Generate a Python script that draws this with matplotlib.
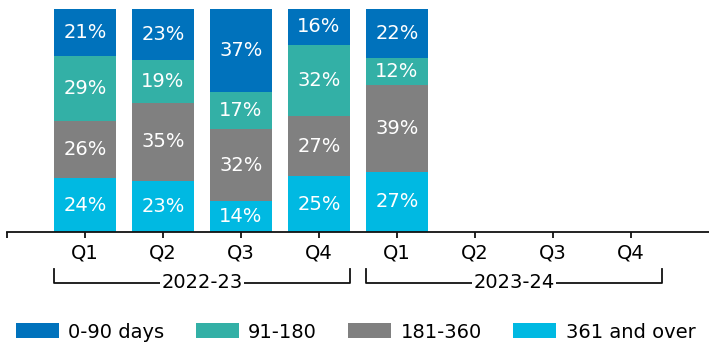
import numpy as np
import matplotlib
matplotlib.use("Agg")
import matplotlib.pyplot as plt
from matplotlib.transforms import blended_transform_factory
from matplotlib.patches import Patch

quarters = ["Q1", "Q2", "Q3", "Q4", "Q1", "Q2", "Q3", "Q4"]
years = ["2022-23", "2023-24"]
bands = ["0-90 days", "91-180", "181-360", "361 and over"]
share_0_90 = [21, 23, 37, 16, 22]
share_91_180 = [29, 19, 17, 32, 12]
share_181_360 = [26, 35, 32, 27, 39]
share_361_plus = [24, 23, 14, 25, 27]

colors = {
    "0-90 days": "#0072BC",
    "91-180": "#33B0A6",
    "181-360": "#808080",
    "361 and over": "#00B9E2",
}

plt.rcParams["font.family"] = ["DejaVu Sans"]
FS = 14

W, H = 709, 349
fig = plt.figure(figsize=(W / 100, H / 100), dpi=100)
ax_bottom, ax_top = 232, 9
ax = fig.add_axes([7 / W, (H - ax_bottom) / H, (W - 7) / W, (ax_bottom - ax_top) / H])

# stacked from the bottom: oldest debt first
stack = [
    ("361 and over", share_361_plus),
    ("181-360", share_181_360),
    ("91-180", share_91_180),
    ("0-90 days", share_0_90),
]
n = len(share_0_90)
x = np.arange(n)
bottom = np.zeros(n)
bw = 0.79
for name, vals in stack:
    vals = np.array(vals, dtype=float)
    ax.bar(x, vals, bw, bottom=bottom, color=colors[name], edgecolor="none")
    for xi, b, v in zip(x, bottom, vals):
        ax.text(xi, b + v / 2, f"{int(v)}%", ha="center", va="center",
                color="white", fontsize=FS)
    bottom += vals

ax.set_xlim(-1, 8)
ax.set_ylim(0, 100)
for s in ["top", "right", "left"]:
    ax.spines[s].set_visible(False)
ax.spines["bottom"].set_linewidth(1.3)
ax.spines["bottom"].set_color("#111111")
ax.set_yticks([])
ax.set_xticks(np.arange(-1, 8))
ax.set_xticklabels([""] + quarters, fontsize=FS)
ax.tick_params(axis="x", direction="out", length=4, width=1.3, pad=4, color="#111111")

# financial-year brackets under the quarter labels
tr = blended_transform_factory(ax.transData, fig.transFigure)
def fy(px):
    return 1 - px / H

y_top, y_line = 269, 283
for k, label in enumerate(years):
    x0 = 4 * k - 0.4
    x1 = 4 * k + 3.4
    ax.plot([x0, x0, x1, x1], [fy(y_top), fy(y_line), fy(y_line), fy(y_top)],
            transform=tr, color="#111111", lw=1.3, clip_on=False)
    ax.text((x0 + x1) / 2, fy(y_line), label, transform=tr, ha="center", va="center",
            fontsize=FS, bbox=dict(facecolor="white", edgecolor="none", pad=1))

handles = [Patch(facecolor=colors[b], edgecolor="none") for b in bands]
fig.legend(handles, bands, loc="center left", bbox_to_anchor=(16 / W, fy(332)),
           ncol=4, frameon=False, fontsize=FS, handlelength=2.2, handleheight=0.8,
           handletextpad=0.5, columnspacing=1.6, borderpad=0, borderaxespad=0)

fig.savefig("out.png", dpi=100)
